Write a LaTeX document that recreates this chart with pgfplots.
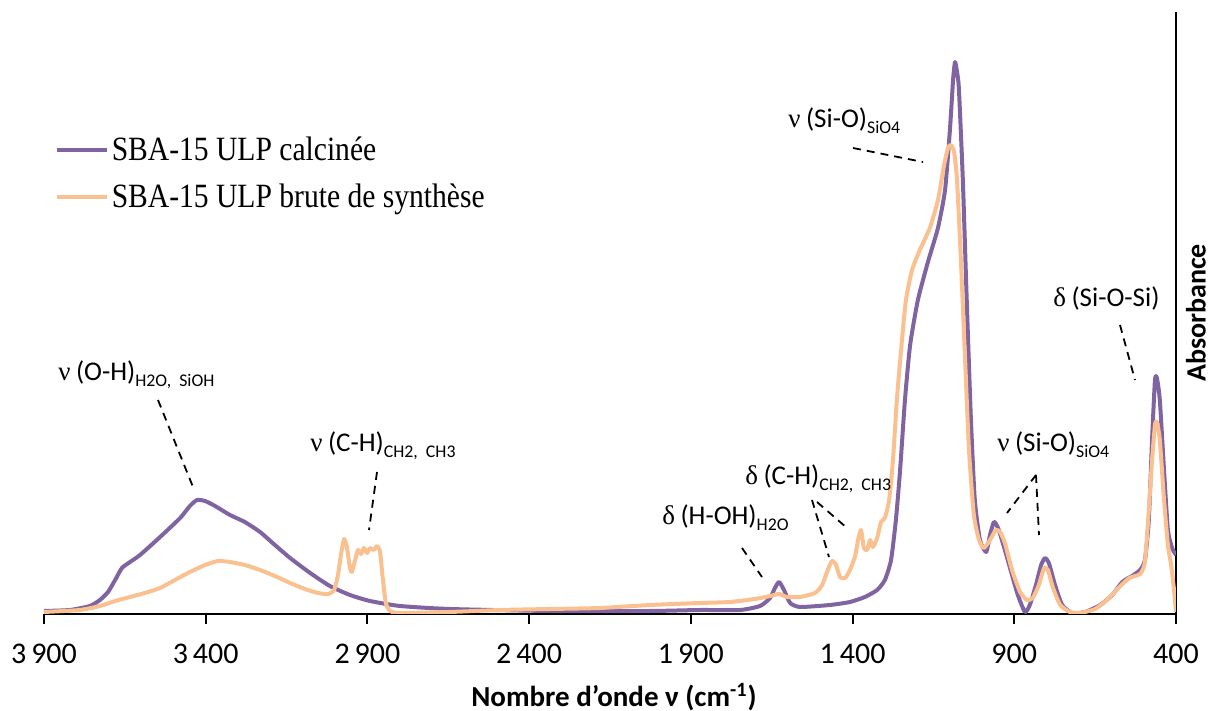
\documentclass[border=0pt]{standalone}
\usepackage{fontspec}
\setmainfont{Carlito}
\newfontfamily\serifgr{Liberation Serif}
\newfontfamily\legfont[FakeStretch=0.87]{Liberation Serif}
\usepackage{pgfplots}
\pgfplotsset{compat=1.18}
\definecolor{calc}{HTML}{8064A2}
\definecolor{brut}{HTML}{FAC090}
\newcommand\gnu{{\serifgr ν}}
\newcommand\gdel{{\serifgr δ}}
\newcommand\sub[1]{\raisebox{-0.45ex}{\fontsize{8.9}{10}\selectfont #1}}
\newcommand\afont{\fontsize{13.5}{15}\selectfont}

\pgfplotstableread{
x y
3900 3
3820 4
3758 8
3727 14
3702 22
3680 34
3659 46
3634 52
3603 59
3541 77
3479 96
3449 108
3427 114
3402 113
3371 108
3325 99
3279 92
3232 82
3186 69
3139 56
3077 41
3016 28
2954 19
2892 13
2799 8
2645 5
2336 3
2026 3
1872 4
1748 4
1686 8
1655 16
1640 26
1627 32
1612 24
1593 11
1562 7
1470 9
1408 12
1362 17
1324 24
1300 34
1281 54
1266 94
1253 144
1238 214
1222 269
1198 314
1167 352
1136 386
1114 424
1099 484
1089 535
1083 552
1076 540
1071 524
1059 434
1047 314
1034 194
1022 114
1006 74
987 62
975 79
963 92
950 86
929 64
907 39
889 19
867 2
852 9
833 29
817 49
805 56
793 51
774 29
752 9
721 1
681 2
634 9
597 19
566 32
536 38
511 44
496 54
484 94
474 174
465 234
459 236
450 214
437 144
425 84
412 66
400 59
}\calcdata

\pgfplotstableread{
x y
3900 2
3789 4
3727 8
3680 13
3634 17
3588 21
3541 26
3495 34
3449 42
3402 49
3362 53
3325 52
3279 49
3232 44
3186 38
3139 31
3093 25
3053 21
3022 20
3003 24
2991 39
2982 59
2972 75
2963 66
2954 46
2948 42
2938 54
2929 64
2920 60
2911 66
2901 61
2892 66
2880 64
2870 68
2861 62
2852 34
2843 11
2830 3
2799 1
2645 2
2490 4
2336 5
2181 6
2026 9
1872 11
1779 12
1702 15
1655 18
1627 20
1603 17
1562 17
1516 21
1494 29
1479 42
1464 53
1451 49
1439 37
1423 36
1408 44
1392 58
1383 74
1374 84
1365 66
1355 64
1346 74
1337 67
1324 76
1312 92
1300 96
1287 114
1275 154
1263 214
1250 264
1235 314
1216 344
1192 364
1161 386
1136 414
1117 449
1105 466
1096 469
1086 462
1077 434
1065 354
1052 254
1040 164
1025 99
1009 74
994 66
975 74
957 84
944 82
929 71
907 44
882 22
861 14
843 16
824 29
808 46
796 44
780 26
758 9
728 2
697 1
650 5
610 15
575 27
544 36
511 40
496 52
484 104
474 154
465 189
459 192
450 174
437 114
425 69
415 49
406 24
400 2
}\brutdata

\begin{document}
\begin{tikzpicture}
\useasboundingbox (-22pt,-48.5pt) rectangle (584pt,307pt);
\begin{axis}[
  scale only axis,
  width=566pt, height=301pt,
  xmin=400, xmax=3900, ymin=0, ymax=602,
  x dir=reverse,
  axis x line*=bottom,
  axis y line*=right,
  axis line style={line width=1pt},
  ytick=\empty,
  xtick={3900,3400,2900,2400,1900,1400,900,400},
  xticklabels={3\,900,3\,400,2\,900,2\,400,1\,900,1\,400,900,400},
  tick align=outside,
  xtick pos=bottom,
  major tick length=5pt,
  tick style={line width=1pt, black},
  xticklabel style={font=\fontsize{15}{18}\selectfont, yshift=-6.5pt},
  xlabel={\textbf{Nombre d'onde ν (cm\textsuperscript{-1})}},
  xlabel style={font=\fontsize{14.5}{17}\selectfont, at={(axis description cs:0.5,0)}, anchor=center, yshift=-41.5pt, xshift=2pt},
  ylabel={\textbf{Absorbance}},
  ylabel style={font=\fontsize{14}{16}\selectfont, at={(axis description cs:1.0175,0.5)}, anchor=center, inner sep=0pt},
  legend style={draw=none, fill=none, at={(0.0097,0.80)}, anchor=north west, inner sep=0pt, row sep=6pt,
    font=\legfont\fontsize{17}{20}\selectfont, nodes={inner xsep=1.2pt}},
  legend cell align=left,
  legend image code/.code={\draw[#1, line width=2pt] (0pt,0pt) -- (25pt,0pt);},
  every axis plot/.append style={line width=2pt, line join=round},
]
\addplot[calc, smooth, tension=0.35] table[x=x,y=y] {\calcdata};
\addlegendentry{SBA-15 ULP calcinée}
\addplot[brut, smooth, tension=0.35] table[x=x,y=y] {\brutdata};
\addlegendentry{SBA-15 ULP brute de synthèse}
\end{axis}
\begin{scope}[x=1pt, y=1pt, dash pattern=on 4pt off 3pt, line width=0.9pt]
\draw (57,107) -- (74.5,63.5);
\draw (166.5,71) -- (162.5,42);
\draw (349,33) -- (359,18.5);
\draw (384,57) -- (392.5,28.5);
\draw (386.5,56) -- (401.5,43);
\draw (404.5,233) -- (439.5,226);
\draw (538,144.5) -- (545.5,117);
\draw (496,69.5) -- (481.5,50.5);
\draw (496,69.5) -- (497.5,39.5);
\end{scope}
\node[anchor=base west, inner sep=0pt, font=\afont] at (7pt,116.5pt) {\gnu\hspace{0.2em}(O-H)\sub{H2O,\ \ SiOH}};
\node[anchor=base west, inner sep=0pt, font=\afont] at (133pt,81pt) {\gnu\hspace{0.2em}(C-H)\sub{CH2,\ \ CH3}};
\node[anchor=base west, inner sep=0pt, font=\afont] at (309pt,44.5pt) {\gdel\hspace{0.2em}(H-OH)\sub{H2O}};
\node[anchor=base west, inner sep=0pt, font=\afont] at (350.5pt,64.5pt) {\gdel\hspace{0.2em}(C-H)\sub{CH2,\ \ CH3}};
\node[anchor=base west, inner sep=0pt, font=\afont] at (372pt,243pt) {\gnu\hspace{0.2em}(Si-O)\sub{SiO4}};
\node[anchor=base west, inner sep=0pt, font=\afont] at (504.5pt,153.5pt) {\gdel\hspace{0.2em}(Si-O-Si)};
\node[anchor=base west, inner sep=0pt, font=\afont] at (476.5pt,81pt) {\gnu\hspace{0.2em}(Si-O)\sub{SiO4}};
\end{tikzpicture}
\end{document}
